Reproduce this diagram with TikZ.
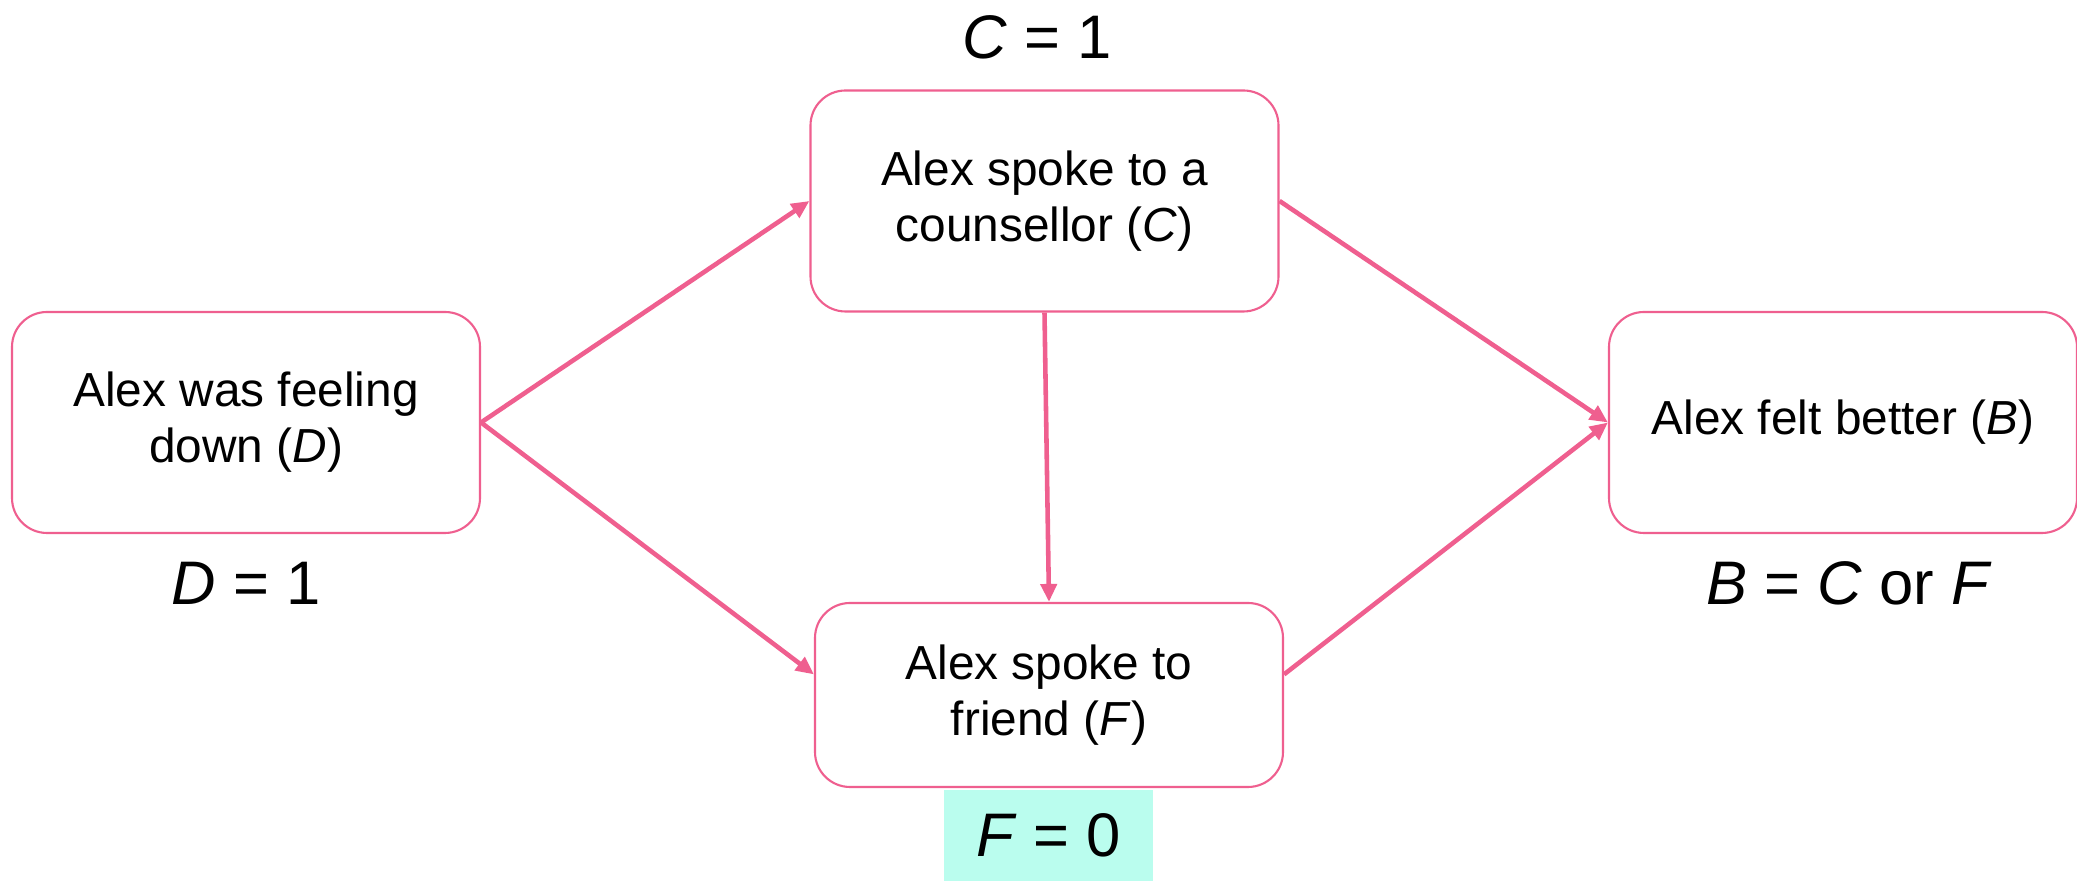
\documentclass[tikz,border=0pt]{standalone}
\usepackage{fontspec}
\setmainfont{Liberation Sans}
\usetikzlibrary{arrows.meta,positioning}
\definecolor{linkpink}{HTML}{EF5F8F}
\definecolor{markcyan}{HTML}{BAFDEE}

\begin{document}
\begin{tikzpicture}[
  font=\fontsize{13.6}{16}\selectfont,
  box/.style={draw=linkpink, line width=0.6pt, rounded corners=3.5mm, align=center, minimum width=46.8mm, minimum height=22.1mm, fill=white},
  val/.style={align=center, font=\fontsize{17.5}{20}\selectfont},
  arrow/.style={-{Triangle[length=1.8mm,width=1.6mm]}, line width=1.3pt, draw=linkpink}
]
\useasboundingbox (0,0) rectangle (20.77,8.81);

\node[box] (down) at (2.46,4.585)
  {Alex was feeling\\down (\textit{D})};
\node[box] (couns) at (10.445,6.80)
  {Alex spoke to a\\counsellor (\textit{C})};
\node[box, minimum height=18.4mm] (friend) at (10.49,1.86)
  {Alex spoke to\\friend (\textit{F})};
\node[box] (better) at (18.43,4.585)
  {Alex felt better (\textit{B})};

\draw[arrow] (down.east) -- (couns.west);
\draw[arrow] (down.east) -- (friend.175);
\draw[arrow] (couns.south) -- (friend.north);
\draw[arrow] (couns.east) -- (better.west);
\draw[arrow] (friend.5) -- (better.west);

\node[val] (cval) at (10.37,8.44) {\textit{C} = 1};
\node[val] (dval) at (2.46,2.98) {\textit{D} = 1};
\node[val] (bval) at (18.49,2.98) {\textit{B} = \textit{C} or \textit{F}};
\node[val, fill=markcyan, minimum width=20.9mm, minimum height=9.1mm] (fval) at (10.485,0.455)
  {\textit{F} = 0};

\end{tikzpicture}
\end{document}
